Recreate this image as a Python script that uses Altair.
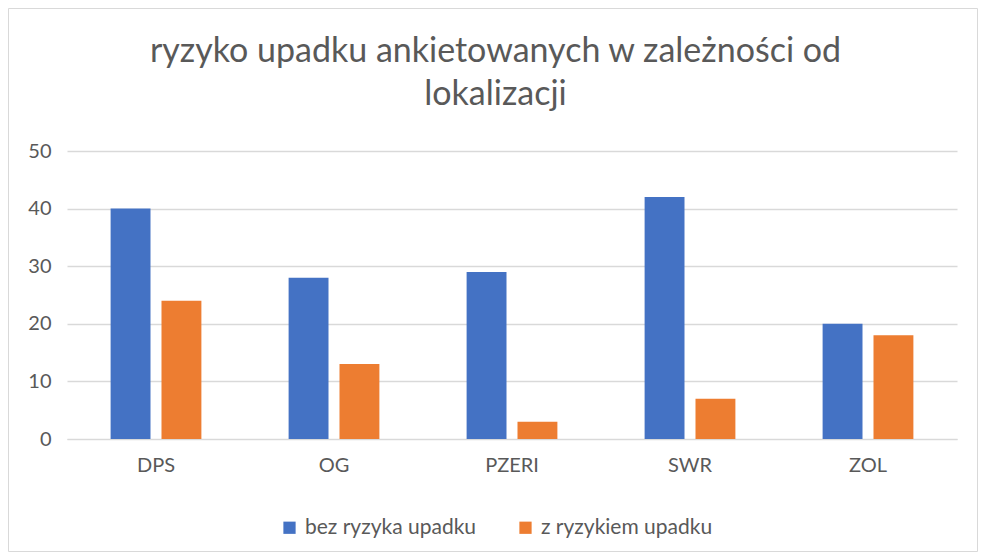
import altair as alt
import pandas as pd

categories = ["DPS", "OG", "PZERI", "SWR", "ZOL"]
series_names = ["bez ryzyka upadku", "z ryzykiem upadku"]
bez_ryzyka = [40, 28, 29, 42, 20]
z_ryzykiem = [24, 13, 3, 7, 18]
colors = ["#4472C4", "#ED7D31"]
title_text = "ryzyko upadku ankietowanych w zależności od\nlokalizacji"

rows = []
for c, a, b in zip(categories, bez_ryzyka, z_ryzykiem):
    rows.append({"kategoria": c, "seria": series_names[0], "wartosc": a})
    rows.append({"kategoria": c, "seria": series_names[1], "wartosc": b})
df = pd.DataFrame(rows)

FONT = "Lato"
GREY = "#595959"

bars = alt.Chart(df).mark_bar().encode(
    x=alt.X("kategoria:N", sort=categories, title=None,
            scale=alt.Scale(paddingInner=0.49, paddingOuter=0.245),
            axis=alt.Axis(labelAngle=0, labelFontSize=20, labelColor=GREY, labelFont=FONT,
                          labelPadding=16, ticks=False, domain=True, domainColor="#D9D9D9",
                          grid=False)),
    xOffset=alt.XOffset("seria:N", sort=series_names,
                        scale=alt.Scale(paddingInner=0.216, paddingOuter=0)),
    y=alt.Y("wartosc:Q", title=None,
            scale=alt.Scale(domain=[0, 50]),
            axis=alt.Axis(values=[0, 10, 20, 30, 40, 50], labelFontSize=20, labelColor=GREY,
                          labelFont=FONT, labelPadding=16, ticks=False, domain=False,
                          grid=True, gridColor="#D9D9D9", gridWidth=1.5)),
    color=alt.Color("seria:N", sort=series_names,
                    scale=alt.Scale(domain=series_names, range=colors),
                    legend=alt.Legend(title=None, orient="none", direction="horizontal",
                                      legendX=212, legendY=366, symbolType="square",
                                      symbolSize=150, symbolStrokeWidth=0,
                                      labelFontSize=21, labelColor=GREY, labelFont=FONT,
                                      labelLimit=0, columnPadding=38, labelOffset=5)),
)

frame = alt.Chart(pd.DataFrame({"a": [0]})).mark_rect(
    fill=None, stroke="#D9D9D9", strokeWidth=1
).encode(
    x=alt.value(-58.5), x2=alt.value(910.5), y=alt.value(-142.5), y2=alt.value(400.5)
)

title = alt.Chart(pd.DataFrame({"t": [title_text]})).mark_text(
    font=FONT, fontSize=34, color=GREY, align="center", baseline="alphabetic",
    lineBreak="\n", lineHeight=43
).encode(
    text="t:N", x=alt.value(428.5), y=alt.value(-89)
)

chart = alt.layer(frame, title, bars).properties(
    width=890, height=288,
    autosize=alt.AutoSizeParams(type="none"),
    padding={"left": 59, "top": 143, "right": 21, "bottom": 113},
).configure_view(stroke=None)

chart.save("out.html", embed_options={"renderer": "svg", "actions": False})
